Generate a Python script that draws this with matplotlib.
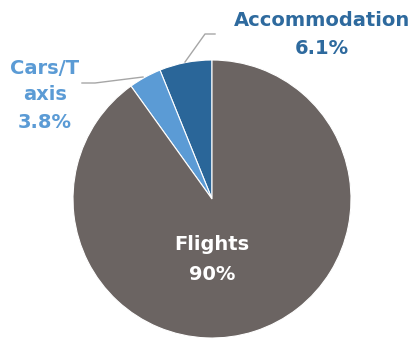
import matplotlib.pyplot as plt

# Travel spend share
categories = ["Accommodation", "Cars/Taxi", "Flights"]
shares = [6.1, 3.8, 90]
colors = ["#2a6699", "#5b9bd5", "#6b6462"]

plt.rcParams['font.family'] = ['DejaVu Sans']

fig = plt.figure(figsize=(4.17, 3.41), dpi=100)
ax = fig.add_axes([0, 0, 1, 1])

cx, cy, r = 212, 142, 139
ax.pie(shares, colors=colors, startangle=90, counterclock=True,
       center=(cx, cy), radius=r, frame=True,
       wedgeprops=dict(edgecolor='white', linewidth=0.8))
ax.set_xlim(0, 417)
ax.set_ylim(0, 341)
ax.set_aspect('equal')
ax.axis('off')

def pct(v):
    return f"{v:g}%"

# Leader lines
ax.plot([215, 205, 185], [307, 307, 279], color='#a6a6a6', lw=1)
ax.plot([82, 95, 143], [258, 258, 264], color='#a6a6a6', lw=1)

fs = 14
ax.text(322, 321, categories[0], ha='center', va='center',
        fontsize=fs, fontweight='bold', color='#2e6a9e')
ax.text(322, 293, pct(shares[0]), ha='center', va='center',
        fontsize=fs, fontweight='bold', color='#2e6a9e')

ax.text(45, 273, "Cars/T", ha='center', va='center',
        fontsize=fs, fontweight='bold', color='#5b9bd5')
ax.text(45, 246, "axis", ha='center', va='center',
        fontsize=fs, fontweight='bold', color='#5b9bd5')
ax.text(45, 218, pct(shares[1]), ha='center', va='center',
        fontsize=fs, fontweight='bold', color='#5b9bd5')

ax.text(212, 96, categories[2], ha='center', va='center',
        fontsize=fs, fontweight='bold', color='white')
ax.text(212, 66, pct(shares[2]), ha='center', va='center',
        fontsize=fs, fontweight='bold', color='white')

fig.savefig("out.png", dpi=100)
